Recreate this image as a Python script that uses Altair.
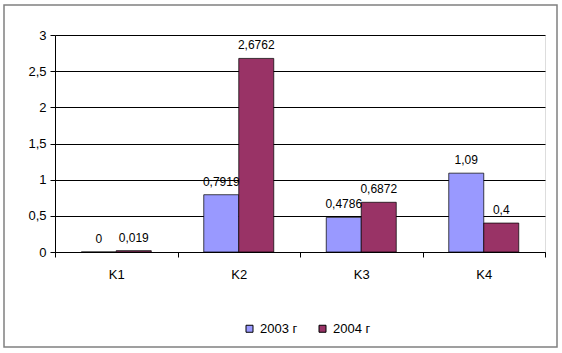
import altair as alt
import pandas as pd

categories = ["K1", "K2", "K3", "K4"]
values_2003 = [0, 0.7919, 0.4786, 1.09]
values_2004 = [0.019, 2.6762, 0.6872, 0.4]
series = ["2003 г", "2004 г"]
colors = ["#9999FF", "#993366"]
y_ticks = [0, 0.5, 1, 1.5, 2, 2.5, 3]

rows = []
for c, a, b in zip(categories, values_2003, values_2004):
    rows.append({"cat": c, "year": series[0], "value": a})
    rows.append({"cat": c, "year": series[1], "value": b})
df = pd.DataFrame(rows)

FONT = "Liberation Sans"

x = alt.X("cat:N", scale=alt.Scale(paddingInner=0, paddingOuter=0),
          axis=alt.Axis(title=None, tickBand="extent", labelAngle=0, labelFontSize=13,
                        labelPadding=11, tickSize=5, domainColor="black", tickColor="black",
                        labelColor="black", grid=False))
xo = alt.XOffset("year:N", scale=alt.Scale(paddingOuter=0.75, paddingInner=0))
y = alt.Y("value:Q", scale=alt.Scale(domain=[0, 3], nice=False),
          axis=alt.Axis(title=None, values=y_ticks, tickCount=7,
                        labelExpr="replace(toString(datum.value), '.', ',')",
                        labelOverlap=False, labelFlush=False,
                        tickSize=5, labelPadding=4, labelFontSize=13, labelColor="black",
                        domainColor="black", tickColor="black", gridColor="black",
                        gridOpacity=1, grid=True))

color = alt.Color("year:N", scale=alt.Scale(domain=series, range=colors),
                  legend=alt.Legend(title=None, orient="none", direction="horizontal",
                                    legendX=188, legendY=287, symbolType="square",
                                    symbolSize=49, symbolStrokeColor="black",
                                    symbolStrokeWidth=1, labelFontSize=13,
                                    labelColor="black", columnPadding=18,
                                    symbolOpacity=1))

base = alt.Chart(df)

bars = base.mark_bar(stroke="black", strokeWidth=0.8, strokeOpacity=0.9).encode(
    x=x, xOffset=xo, y=y, color=color)

labels = base.transform_calculate(
    label="replace(toString(datum.value), '.', ',')"
).mark_text(baseline="bottom", dy=-6, fontSize=12, font=FONT, color="black").encode(
    x=x, xOffset=xo, y=y, text="label:N")

border = alt.Chart(alt.Data(values=[{}])).mark_rect(
    fill=None, stroke="#808080", strokeWidth=1.5).encode(
    x=alt.value(-51), x2=alt.value(502), y=alt.value(-30), y2=alt.value(312))

chart = alt.layer(bars, labels, border).properties(
    width=490, height=217,
    autosize=alt.AutoSizeParams(type="none"),
    padding={"left": 55, "top": 35, "right": 17, "bottom": 101},
    background="white",
).configure_view(stroke="black", strokeWidth=1).configure(
    font=FONT
).configure_axis(labelFont=FONT)

chart.save("out.html", embed_options={"renderer": "svg", "actions": False})
